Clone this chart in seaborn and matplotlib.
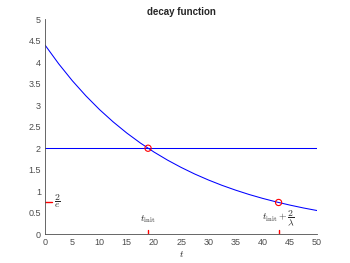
import matplotlib
matplotlib.use("Agg")
import matplotlib.pyplot as plt
import numpy as np
import pandas as pd
import seaborn as sns

# curve values
T = [0, 2.5, 5, 7.5, 10, 12.5, 15, 17.5, 20, 22.5, 25, 27.5, 30, 32.5, 35,
     37.5, 40, 42.5, 45, 47.5, 50]
Y = [4.40, 3.965, 3.572, 3.219, 2.900, 2.614, 2.355, 2.122, 1.912, 1.723, 1.553,
     1.399, 1.261, 1.136, 1.024, 0.922, 0.831, 0.749, 0.675, 0.608, 0.548]

LEVEL = 2.0
MARK_T = [18.92, 42.92]
MARK_Y = [2.0, 0.736]
X_TICKS = list(range(0, 51, 5))
Y_TICKS = [0, 0.5, 1, 1.5, 2, 2.5, 3, 3.5, 4, 4.5, 5]

sns.set_style("white")
plt.rcParams["font.family"] = ["Liberation Sans", "DejaVu Sans"]
plt.rcParams["mathtext.fontset"] = "cm"

fig = plt.figure(figsize=(3.5, 2.63), dpi=100)
ax = fig.add_axes([0.129, 0.110, 0.777, 0.816])

curve = pd.DataFrame({"t": T, "y": Y})
sns.lineplot(data=curve, x="t", y="y", ax=ax, color="#0000ff", linewidth=0.75)
ax.axhline(LEVEL, color="#0000ff", linewidth=0.75)
sns.scatterplot(x=MARK_T, y=MARK_Y, ax=ax, marker="o", s=20,
                facecolor="none", edgecolor="#ff0000", linewidth=0.8, zorder=5)

# red markers on the axes
for t in MARK_T:
    ax.plot([t, t], [0, 0.1], color="#ff0000", linewidth=1.0)
ax.plot([0, 1.3], [MARK_Y[1], MARK_Y[1]], color="#ff0000", linewidth=1.0)

ax.text(MARK_T[0], 0.2, r"$t_{\rm init}$", ha="center", va="bottom",
        fontsize=7, color="#262626")
ax.text(MARK_T[1], 0.14, r"$t_{\rm init}+\dfrac{2}{\lambda}$", ha="center",
        va="bottom", fontsize=7, color="#262626")
ax.text(1.6, MARK_Y[1] + 0.02, r"$\dfrac{2}{e}$", ha="left", va="center",
        fontsize=7, color="#262626")

ax.set_xlim(0, 50)
ax.set_ylim(0, 5)
ax.set_xticks(X_TICKS)
ax.set_yticks(Y_TICKS)
ax.set_yticklabels([f"{v:g}" for v in Y_TICKS])
ax.tick_params(direction="in", length=2.5, width=0.6, labelsize=6.5,
               colors="#4d4d4d", pad=3)
for side in ["top", "right"]:
    ax.spines[side].set_visible(False)
for side in ["left", "bottom"]:
    ax.spines[side].set_color("#4d4d4d")
    ax.spines[side].set_linewidth(0.6)

ax.set_xlabel(r"$t$", fontsize=7, labelpad=1, color="#262626")
ax.set_ylabel("")
ax.set_title("decay function", fontsize=7, fontweight="bold", pad=3)

fig.savefig("out.png", dpi=100)
